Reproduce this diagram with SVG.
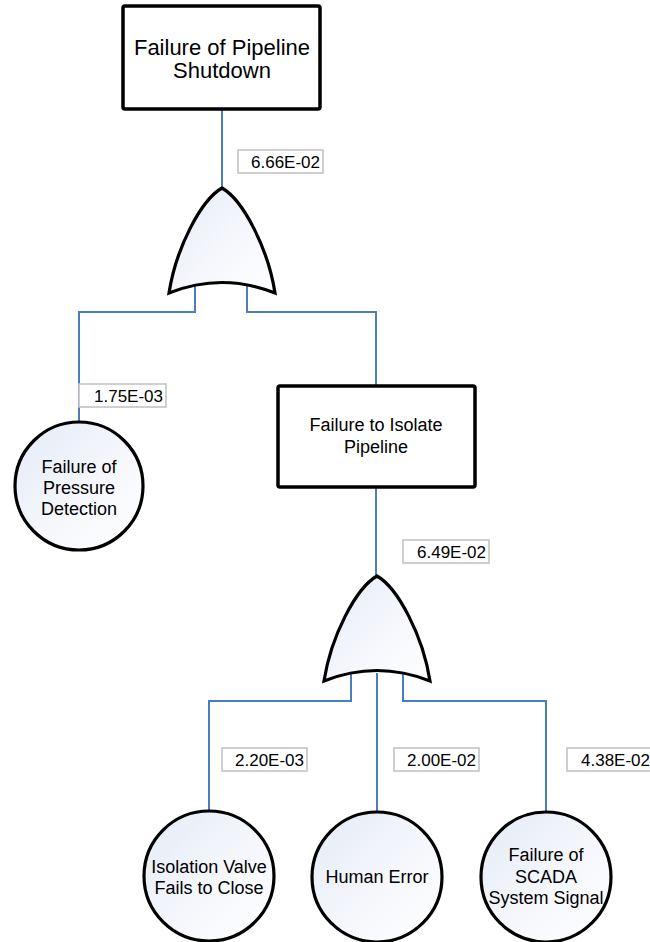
<svg xmlns="http://www.w3.org/2000/svg" width="650" height="942" viewBox="0 0 650 942">
<defs>
  <linearGradient id="fillGrad" x1="0" y1="0" x2="1" y2="1">
    <stop offset="0" stop-color="#e4eaf6"/>
    <stop offset="0.55" stop-color="#f5f7fc"/>
    <stop offset="1" stop-color="#ffffff"/>
  </linearGradient>
  <path id="orGate" d="M0,0 C21,12 46,60 53,105 Q0,84 -53,105 C-46,60 -21,12 0,0 Z"/>
</defs>
<style>
  .box { fill: #ffffff; stroke: #000000; stroke-width: 3.5; }
  .event { fill: url(#fillGrad); stroke: #000000; stroke-width: 3.2; }
  .gate { fill: url(#fillGrad); stroke: #000000; stroke-width: 3.2; stroke-linejoin: miter; }
  .conn { fill: none; stroke: #4a7ebf; stroke-width: 2; }
  .lbl { fill: #ffffff; stroke: #c4c4c4; stroke-width: 1.6; }
  .t { font-family: "Liberation Sans", Arial, sans-serif; fill: #000000; text-anchor: middle; }
  .t22 { font-size: 22px; }
  .t18 { font-size: 18px; }
  .num { font-family: "Liberation Sans", Arial, sans-serif; font-size: 17px; fill: #000000; text-anchor: end; }
</style>

<g id="connectors">
  <path class="conn" d="M222,109 V190"/>
  <path class="conn" d="M195,285 V312 H79 V423"/>
  <path class="conn" d="M247,285 V312 H376 V386"/>
  <path class="conn" d="M376,487 V578"/>
  <path class="conn" d="M351,673 V701 H209 V812"/>
  <path class="conn" d="M377,673 V812"/>
  <path class="conn" d="M403,673 V701 H546 V812"/>
</g>

<g id="top-event">
  <rect class="box" x="123" y="6" width="197" height="103" rx="2"/>
  <text class="t t22" x="222" y="55">Failure of Pipeline</text>
  <text class="t t22" x="222" y="78">Shutdown</text>
</g>

<g id="gate1">
  <use href="#orGate" class="gate" x="222" y="188"/>
  <rect class="lbl" x="238" y="150" width="85" height="23"/>
  <text class="num" x="320" y="168">6.66E-02</text>
</g>

<g id="pressure-detection">
  <circle class="event" cx="79" cy="486" r="64"/>
  <text class="t t18" x="79" y="473">Failure of</text>
  <text class="t t18" x="79" y="494">Pressure</text>
  <text class="t t18" x="79" y="515">Detection</text>
  <rect class="lbl" x="79" y="384" width="87" height="23"/>
  <text class="num" x="163" y="402">1.75E-03</text>
</g>

<g id="isolate-pipeline">
  <rect class="box" x="278" y="386" width="197" height="101" rx="2"/>
  <text class="t t18" x="376" y="431">Failure to Isolate</text>
  <text class="t t18" x="376" y="453">Pipeline</text>
</g>

<g id="gate2">
  <use href="#orGate" class="gate" x="377" y="576"/>
  <rect class="lbl" x="403" y="540" width="86" height="23"/>
  <text class="num" x="486" y="558">6.49E-02</text>
</g>

<g id="valve-fails">
  <circle class="event" cx="209" cy="876" r="65"/>
  <text class="t t18" x="209" y="873">Isolation Valve</text>
  <text class="t t18" x="209" y="894">Fails to Close</text>
  <rect class="lbl" x="222" y="748" width="85" height="23"/>
  <text class="num" x="304" y="766">2.20E-03</text>
</g>

<g id="human-error">
  <circle class="event" cx="377" cy="877" r="65"/>
  <text class="t t18" x="377" y="883">Human Error</text>
  <rect class="lbl" x="394" y="748" width="85" height="23"/>
  <text class="num" x="476" y="766">2.00E-02</text>
</g>

<g id="scada-failure">
  <circle class="event" cx="546" cy="877" r="65"/>
  <text class="t t18" x="546" y="861">Failure of</text>
  <text class="t t18" x="546" y="883">SCADA</text>
  <text class="t t18" x="546" y="904">System Signal</text>
  <rect class="lbl" x="567" y="748" width="87" height="23"/>
  <text class="num" x="650" y="766">4.38E-02</text>
</g>
</svg>
